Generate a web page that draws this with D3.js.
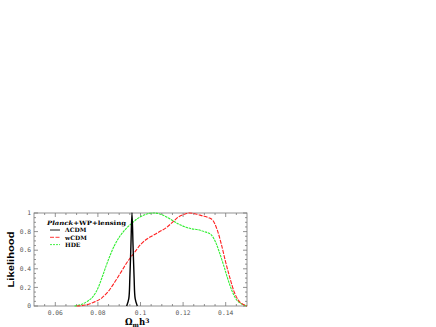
<!DOCTYPE html>
<html>
<head>
<meta charset="utf-8">
<script src="https://cdn.jsdelivr.net/npm/d3@7"></script>
<style>
  body { margin: 0; background: #fff; }
  svg { display: block; }
</style>
</head>
<body>
<div id="chart"></div>
<script>
// Dati
const xDomain = [0.05, 0.15];
const xTicks = [0.06, 0.08, 0.1, 0.12, 0.14];
const yTicks = [0, 0.2, 0.4, 0.6, 0.8, 1];

const lcdmX = [0.0935, 0.0945, 0.095, 0.0955, 0.096, 0.0965, 0.097, 0.0975, 0.0985];
const lcdmY = [0, 0.08, 0.3, 0.65, 1, 0.65, 0.3, 0.08, 0];

const wcdmX = [0.070, 0.074, 0.078, 0.082, 0.085, 0.088, 0.091, 0.094, 0.097, 0.100, 0.103, 0.106, 0.109, 0.112, 0.115, 0.118, 0.121, 0.123, 0.126, 0.129, 0.132, 0.134, 0.136, 0.138, 0.140, 0.142, 0.144, 0.146, 0.148, 0.150];
const wcdmY = [0, 0.01, 0.04, 0.09, 0.16, 0.26, 0.37, 0.48, 0.57, 0.66, 0.72, 0.76, 0.80, 0.84, 0.90, 0.96, 0.99, 1.0, 0.99, 0.97, 0.95, 0.92, 0.82, 0.66, 0.47, 0.30, 0.15, 0.06, 0.02, 0];

const hdeX = [0.069, 0.072, 0.075, 0.078, 0.080, 0.082, 0.084, 0.086, 0.088, 0.090, 0.092, 0.094, 0.096, 0.098, 0.100, 0.103, 0.106, 0.109, 0.112, 0.115, 0.118, 0.121, 0.124, 0.127, 0.130, 0.133, 0.135, 0.137, 0.139, 0.141, 0.143, 0.145, 0.147, 0.150];
const hdeY = [0, 0.015, 0.05, 0.11, 0.19, 0.31, 0.44, 0.56, 0.66, 0.74, 0.80, 0.85, 0.89, 0.93, 0.96, 0.99, 1.0, 0.99, 0.96, 0.92, 0.88, 0.85, 0.83, 0.82, 0.80, 0.77, 0.70, 0.58, 0.44, 0.29, 0.16, 0.07, 0.03, 0];

const legendLabels = ["\u039BCDM", "wCDM", "HDE"];

// Dimensioni
const width = 436;
const height = 327;
const margin = { left: 34, right: 189, top: 213, bottom: 21 };

const svg = d3.select("#chart").append("svg")
  .attr("width", width)
  .attr("height", height);

const x = d3.scaleLinear().domain(xDomain).range([margin.left, width - margin.right]);
const y = d3.scaleLinear().domain([0, 1]).range([height - margin.bottom, margin.top]);

const x0 = x.range()[0], x1 = x.range()[1];
const y0 = y.range()[0], y1 = y.range()[1];

// Tacche (verso l'interno)
const xMinor = d3.range(0.055, 0.1499, 0.005).filter(v => !xTicks.some(t => Math.abs(t - v) < 1e-6));
const yMinor = d3.range(0.05, 0.999, 0.05).filter(v => !yTicks.some(t => Math.abs(t - v) < 1e-6));

const tickG = svg.append("g").attr("stroke", "#777").attr("stroke-width", 0.8);
xTicks.forEach(t => {
  tickG.append("line").attr("x1", x(t)).attr("x2", x(t)).attr("y1", y0).attr("y2", y0 - 4);
  tickG.append("line").attr("x1", x(t)).attr("x2", x(t)).attr("y1", y1).attr("y2", y1 + 4);
});
xMinor.forEach(t => {
  tickG.append("line").attr("x1", x(t)).attr("x2", x(t)).attr("y1", y0).attr("y2", y0 - 2);
  tickG.append("line").attr("x1", x(t)).attr("x2", x(t)).attr("y1", y1).attr("y2", y1 + 2);
});
yTicks.forEach(t => {
  tickG.append("line").attr("x1", x0).attr("x2", x0 + 4).attr("y1", y(t)).attr("y2", y(t));
  tickG.append("line").attr("x1", x1).attr("x2", x1 - 4).attr("y1", y(t)).attr("y2", y(t));
});
yMinor.forEach(t => {
  tickG.append("line").attr("x1", x0).attr("x2", x0 + 2).attr("y1", y(t)).attr("y2", y(t));
  tickG.append("line").attr("x1", x1).attr("x2", x1 - 2).attr("y1", y(t)).attr("y2", y(t));
});

// Cornice
svg.append("rect")
  .attr("x", x0).attr("y", y1)
  .attr("width", x1 - x0).attr("height", y0 - y1)
  .attr("fill", "none")
  .attr("stroke", "#777")
  .attr("stroke-width", 0.8);

// Etichette assi
svg.append("g").selectAll("text")
  .data(xTicks)
  .join("text")
  .attr("x", d => x(d))
  .attr("y", y0 + 8.5)
  .attr("text-anchor", "middle")
  .attr("font-family", "DejaVu Sans Mono, monospace")
  .attr("font-size", 6.3)
  .attr("fill", "#555")
  .text(d => d3.format("")(d));

svg.append("g").selectAll("text")
  .data(yTicks)
  .join("text")
  .attr("x", x0 - 3)
  .attr("y", d => y(d) + 2.2)
  .attr("text-anchor", "end")
  .attr("font-family", "DejaVu Sans Mono, monospace")
  .attr("font-size", 6.3)
  .attr("fill", "#555")
  .text(d => d3.format("")(d));

svg.append("text")
  .attr("transform", `translate(14, ${(y0 + y1) / 2}) rotate(-90)`)
  .attr("text-anchor", "middle")
  .attr("font-family", "Liberation Sans, Arial, sans-serif")
  .attr("font-weight", "bold")
  .attr("font-size", 9.5)
  .attr("textLength", 56)
  .attr("lengthAdjust", "spacingAndGlyphs")
  .text("Likelihood");

const xLabel = svg.append("text")
  .attr("x", 125)
  .attr("y", 325)
  .attr("font-family", "DejaVu Serif, Liberation Serif, serif")
  .attr("font-weight", "bold")
  .attr("font-size", 8.5);
xLabel.append("tspan").text("\u03A9");
xLabel.append("tspan").attr("font-size", 6).attr("dy", 1.5).text("m");
xLabel.append("tspan").attr("dy", -1.5).text("h");
xLabel.append("tspan").attr("font-size", 6).attr("dy", -2.5).text("3");

// Curve
const line = d3.line()
  .x(d => x(d[0]))
  .y(d => y(d[1]))
  .curve(d3.curveMonotoneX);

const plot = svg.append("g");

plot.append("path")
  .datum(d3.zip(hdeX, hdeY))
  .attr("d", line)
  .attr("fill", "none")
  .attr("stroke", "#33ee33")
  .attr("stroke-width", 1.1)
  .attr("stroke-dasharray", "2.5,0.8");

plot.append("path")
  .datum(d3.zip(wcdmX, wcdmY))
  .attr("d", line)
  .attr("fill", "none")
  .attr("stroke", "#ff2020")
  .attr("stroke-width", 1.1)
  .attr("stroke-dasharray", "4,1.2");

plot.append("path")
  .datum(d3.zip(lcdmX, lcdmY))
  .attr("d", d3.line().x(d => x(d[0])).y(d => y(d[1])).curve(d3.curveCatmullRom))
  .attr("fill", "none")
  .attr("stroke", "#000")
  .attr("stroke-width", 1.4);

// Legenda
const legend = svg.append("g")
  .attr("font-family", "DejaVu Serif, Liberation Serif, serif")
  .attr("font-weight", "bold")
  .attr("font-size", 6);

const title = legend.append("text")
  .attr("x", 47).attr("y", 225)
  .attr("textLength", 79)
  .attr("lengthAdjust", "spacingAndGlyphs");
title.append("tspan").attr("font-style", "italic").text("Planck");
title.append("tspan").text("+WP+lensing");

const legendStyles = [
  { color: "#000", dash: null },
  { color: "#ff2020", dash: "4,1.5" },
  { color: "#33ee33", dash: "2,1" }
];

legendLabels.forEach((lab, i) => {
  const ly = 230 + i * 7.3;
  legend.append("line")
    .attr("x1", 50).attr("x2", 60)
    .attr("y1", ly).attr("y2", ly)
    .attr("stroke", legendStyles[i].color)
    .attr("stroke-width", 0.9)
    .attr("stroke-dasharray", legendStyles[i].dash);
  legend.append("text")
    .attr("x", 65).attr("y", ly + 2.2)
    .text(lab);
});
</script>
</body>
</html>
